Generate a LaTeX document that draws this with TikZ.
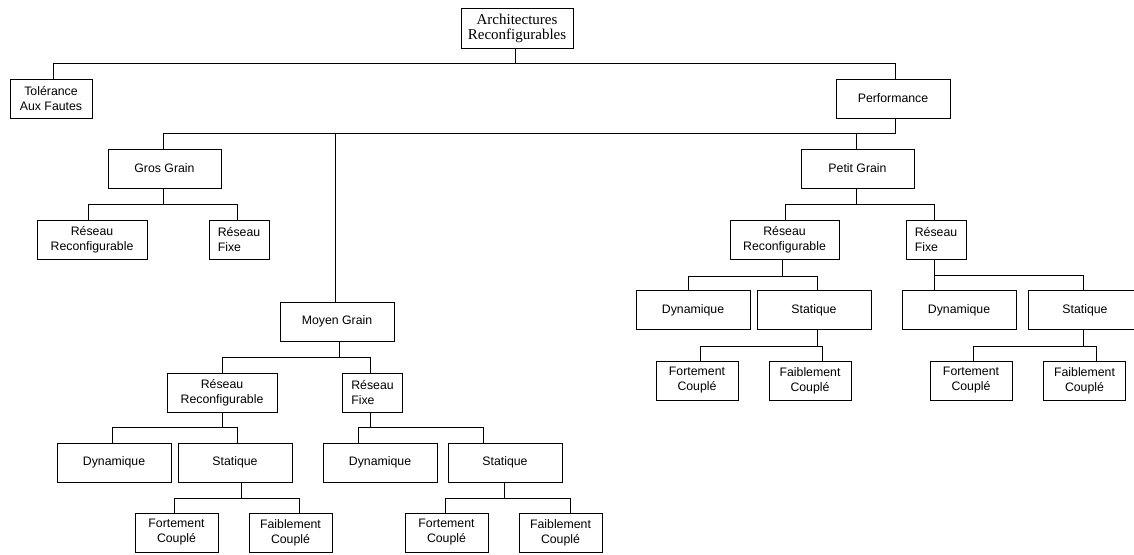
\documentclass[tikz,border=0pt]{standalone}
\usepackage{fontspec}
\setmainfont{Liberation Sans}
\newfontfamily\tnr{Liberation Serif}
\begin{document}
\begin{tikzpicture}[x=1pt,y=-1pt,
  box/.style={draw=black, line width=0.8pt, inner sep=0pt, minimum height=39pt,
              align=center, font=\fontsize{12.3}{15}\selectfont},
  wd/.style={minimum width=#1pt},
  link/.style={draw=black, line width=0.8pt}]
\useasboundingbox (0,0) rectangle (1134,554);

% root and first level
\node[box, wd=112, minimum height=40pt, font=\tnr\fontsize{15}{15}\selectfont] (arch) at (517,28) {Architectures\\Reconfigurables};
\node[box, wd=82]  (tol)  at (51,98.5)   {Tolérance\\Aux Fautes};
\node[box, wd=114] (perf) at (893,98.5)  {Performance};

% granularity
\node[box, wd=113] (gg) at (164.5,168.5) {Gros Grain};
\node[box, wd=113] (pg) at (857.5,168.5) {Petit Grain};
\node[box, wd=114] (mg) at (337,321.5)   {Moyen Grain};

% gros grain
\node[box, wd=110] (ggrr) at (92,239.5) {Réseau\\Reconfigurable};
\node[box, wd=60, align=left] (ggrf) at (239,239.5) {Réseau\\ Fixe};

% petit grain
\node[box, wd=109] (pgrr) at (784.5,239.5) {Réseau\\Reconfigurable};
\node[box, wd=60, align=left] (pgrf) at (936,239.5) {Réseau\\ Fixe};
\node[box, wd=114] (pgrrdyn) at (693,310)  {Dynamique};
\node[box, wd=114] (pgrrsta) at (814,310)  {Statique};
\node[box, wd=114] (pgrfdyn) at (959,310)  {Dynamique};
\node[box, wd=114] (pgrfsta) at (1085,310) {Statique};
\node[box, wd=82] (pgrrfor) at (697,380.5)    {Fortement\\Couplé};
\node[box, wd=82] (pgrrfai) at (810,380.5)    {Faiblement\\Couplé};
\node[box, wd=82] (pgrffor) at (971,380.5)    {Fortement\\Couplé};
\node[box, wd=82] (pgrffai) at (1084.5,380.5) {Faiblement\\Couplé};

% moyen grain
\node[box, wd=110] (mgrr) at (222,392.5) {Réseau\\Reconfigurable};
\node[box, wd=60, align=left] (mgrf) at (372.5,392.5) {Réseau\\ Fixe};
\node[box, wd=114] (mgrrdyn) at (114,462.5) {Dynamique};
\node[box, wd=114] (mgrrsta) at (235,462.5) {Statique};
\node[box, wd=114] (mgrfdyn) at (380,462.5) {Dynamique};
\node[box, wd=114] (mgrfsta) at (505,462.5) {Statique};
\node[box, wd=83] (mgrrfor) at (176.5,532.5) {Fortement\\Couplé};
\node[box, wd=83] (mgrrfai) at (290.5,532.5) {Faiblement\\Couplé};
\node[box, wd=83] (mgrffor) at (446.5,532.5) {Fortement\\Couplé};
\node[box, wd=83] (mgrffai) at (560.5,532.5) {Faiblement\\Couplé};

% connectors
\draw[link] ([xshift=-2pt]arch.south) -- ++(0,15) -| ([xshift=2pt]tol.north);
\draw[link] ([xshift=-2pt]arch.south) -- ++(0,15) -| ([xshift=2pt]perf.north);

\draw[link] ([xshift=2pt]perf.south) -- ++(0,15) -| ([xshift=-1.5pt]gg.north);
\draw[link] ([xshift=2pt]perf.south) -- ++(0,15) -| ([xshift=-2pt]mg.north);
\draw[link] ([xshift=2pt]perf.south) -- ++(0,15) -| ([xshift=-1.5pt]pg.north);

\draw[link] ([xshift=-1.5pt]gg.south) -- ++(0,16) -| ([xshift=-4pt]ggrr.north);
\draw[link] ([xshift=-1.5pt]gg.south) -- ++(0,16) -| ([xshift=-2pt]ggrf.north);

\draw[link] ([xshift=-1.5pt]pg.south) -- ++(0,16) -| ([xshift=0.5pt]pgrr.north);
\draw[link] ([xshift=-1.5pt]pg.south) -- ++(0,16) -| ([xshift=-2pt]pgrf.north);

\draw[link] ([xshift=-2.5pt]pgrr.south) -- ++(0,16.5) -| ([xshift=-5pt]pgrrdyn.north);
\draw[link] ([xshift=-2.5pt]pgrr.south) -- ++(0,16.5) -| ([xshift=3pt]pgrrsta.north);
\draw[link] ([xshift=3pt]pgrrsta.south) -- ++(0,16) -| ([xshift=3pt]pgrrfor.north);
\draw[link] ([xshift=3pt]pgrrsta.south) -- ++(0,16) -| ([xshift=12pt]pgrrfai.north);

\draw[link] ([xshift=-2pt]pgrf.south) -- ++(0,16) -| ([xshift=-25pt]pgrfdyn.north);
\draw[link] ([xshift=-2pt]pgrf.south) -- ++(0,16) -| ([xshift=-2pt]pgrfsta.north);
\draw[link] ([xshift=-2pt]pgrfsta.south) -- ++(0,16) -| ([xshift=2pt]pgrffor.north);
\draw[link] ([xshift=-2pt]pgrfsta.south) -- ++(0,16) -| ([xshift=12pt]pgrffai.north);

\draw[link] ([xshift=2pt]mg.south) -- ++(0,16) -| (mgrr.north);
\draw[link] ([xshift=2pt]mg.south) -- ++(0,16) -| ([xshift=-2.5pt]mgrf.north);

\draw[link] (mgrr.south) -- ++(0,15) -| ([xshift=-2pt]mgrrdyn.north);
\draw[link] (mgrr.south) -- ++(0,15) -| ([xshift=2pt]mgrrsta.north);
\draw[link] ([xshift=6pt]mgrrsta.south) -- ++(0,16) -| ([xshift=-2.5pt]mgrrfor.north);
\draw[link] ([xshift=6pt]mgrrsta.south) -- ++(0,16) -| ([xshift=8.5pt]mgrrfai.north);

\draw[link] ([xshift=-2.5pt]mgrf.south) -- ++(0,15) -| ([xshift=-22pt]mgrfdyn.north);
\draw[link] ([xshift=-2.5pt]mgrf.south) -- ++(0,15) -| ([xshift=-22pt]mgrfsta.north);
\draw[link] ([xshift=-1pt]mgrfsta.south) -- ++(0,16) -| ([xshift=-1.5pt]mgrffor.north);
\draw[link] ([xshift=-1pt]mgrfsta.south) -- ++(0,16) -| ([xshift=9.5pt]mgrffai.north);
\end{tikzpicture}
\end{document}
